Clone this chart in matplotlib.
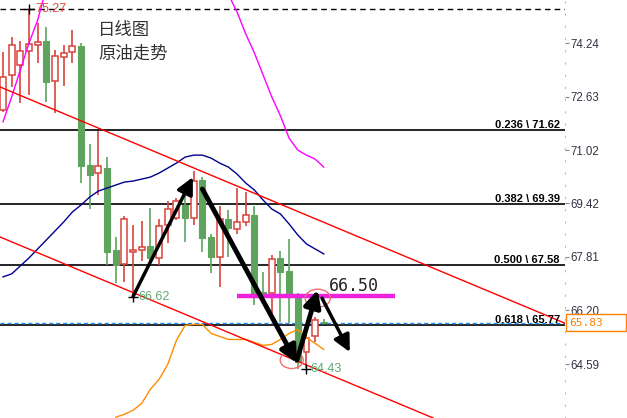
import numpy as np
import matplotlib
matplotlib.use("Agg")
import matplotlib.pyplot as plt
import matplotlib.transforms as mtransforms
from matplotlib.patches import Ellipse, Rectangle

plt.rcParams['font.family'] = ['Noto Sans CJK SC', 'DejaVu Sans']

nan = np.nan

# daily OHLC (index 0 = leftmost candle)
OPEN = [72.23, 73.28, 73.58, 74.00, 74.18, 74.30, 73.10, 73.82, 73.97, 74.15,
        70.57, 70.33, 70.48, 68.02, 67.60, 67.96, 68.02, 68.14, 67.78, 68.77,
        68.98, 69.37, 68.98, 70.12, 68.41, 67.81, 68.95, 68.65, 68.86, 69.07,
        66.75, 66.72, 67.78, 67.39, 66.60, 64.95, 65.43, 65.86]
HIGH = [73.97, 74.42, 74.30, 75.27, 74.84, 74.72, 74.03, 74.18, 74.63, 74.24,
        71.20, 71.59, 70.81, 68.41, 69.04, 68.77, 68.89, 69.28, 68.95, 69.49,
        69.58, 69.75, 70.39, 70.21, 68.50, 69.34, 69.22, 69.88, 69.76, 69.34,
        67.36, 67.87, 67.99, 68.35, 66.72, 65.61, 66.00, 65.93]
LOW = [72.17, 72.92, 72.44, 72.68, 73.64, 72.47, 72.14, 72.95, 73.64, 70.03,
       69.25, 69.67, 67.57, 67.03, 67.06, 66.62, 67.69, 67.57, 67.57, 68.23,
       68.92, 68.26, 68.77, 67.96, 67.33, 66.91, 67.81, 68.50, 68.74, 66.36,
       66.51, 66.12, 65.85, 65.82, 64.43, 64.47, 65.25, 65.80]
CLOSE = [73.22, 74.18, 74.00, 74.21, 74.27, 73.07, 73.85, 73.94, 74.15, 70.54,
         70.27, 70.54, 67.96, 67.57, 68.95, 68.02, 68.11, 67.78, 68.74, 69.25,
         69.49, 68.98, 70.10, 68.38, 67.81, 68.95, 68.68, 68.86, 69.07, 66.72,
         66.69, 67.75, 67.36, 66.60, 64.65, 65.37, 65.91, 65.83]

# moving-average style lines
MA_BLUE = [67.21, 67.30, 67.54, 67.78, 68.05, 68.32, 68.59, 68.86, 69.16, 69.37,
           69.61, 69.79, 69.88, 69.97, 70.06, 70.09, 70.15, 70.21, 70.33, 70.48,
           70.63, 70.81, 70.87, 70.87, 70.78, 70.63, 70.51, 70.30, 70.03, 69.82,
           69.52, 69.25, 69.10, 68.80, 68.47, 68.20, 68.05, 67.90]
MA_ORANGE = [nan] * 13 + [62.99, 63.08, 63.20, 63.41, 63.83, 64.13, 64.58, 65.30,
                          65.75, 65.78, 65.78, 65.51, 65.42, 65.33, 65.33, 65.33,
                          65.24, 65.15, 65.18, 65.33, 65.51, 65.63, 65.39, 65.21, 65.03]
MA_MAGENTA = ([71.87, 72.62, 73.43, 74.24, 74.93, 75.90] + [nan] * 20 +
              [75.70, 75.17, 74.51, 73.94, 73.28, 72.62, 72.05, 71.38, 71.02,
               70.87, 70.75, 70.51])

FIB_RATIOS = [0.236, 0.382, 0.500, 0.618]
FIB_LEVELS = [71.62, 69.39, 67.58, 65.77]
AXIS_TICKS = [74.24, 72.63, 71.02, 69.42, 67.81, 66.20, 64.59]

TOP_PRICE = 75.27
LOW1_PRICE = 66.62
LOW2_PRICE = 64.43
LAST_PRICE = 65.83
RESIST_PRICE = 66.63
RESIST_LABEL = "66.50"

UPPER_CHANNEL = [(-0.35, 72.92), (64.8, 65.82)]
LOWER_CHANNEL = [(-0.35, 68.41), (49.6, 62.97)]

ARROWS = [((15.0, 66.62), (21.9, 70.21), 2.5),
          ((23.0, 69.85), (33.9, 64.62), 3.5),
          ((33.9, 64.71), (36.3, 66.82), 3.5),
          ((36.8, 66.57), (40.0, 64.95), 2.5)]

RED = '#d8443c'
GREEN = '#5ea45e'

fig = plt.figure(figsize=(6.27, 4.18), dpi=100)
ax = fig.add_axes([0, 0, 565 / 627, 1])
ax.set_xlim(-0.346, 64.82)
ax.set_ylim(62.968, 75.533)

x = np.arange(len(OPEN))
o, h, l, c = map(np.array, (OPEN, HIGH, LOW, CLOSE))
up = c >= o
w = 0.68

# candles
for i in x:
    col = RED if up[i] else GREEN
    ax.vlines(i, l[i], h[i], color=col, lw=1.2, zorder=3)
    bot, top = min(o[i], c[i]), max(o[i], c[i])
    hgt = max(top - bot, 0.02)
    if up[i]:
        ax.bar(i, hgt, bottom=bot, width=w, facecolor='white', edgecolor=col,
               linewidth=1.1, zorder=4)
    else:
        ax.bar(i, hgt, bottom=bot, width=w, facecolor=col, edgecolor=col,
               linewidth=0.8, zorder=4)

ax.plot(x, MA_BLUE, color='#000090', lw=1.0, zorder=5)
ax.plot(x, MA_ORANGE, color='#ff8c00', lw=1.0, zorder=5)
ax.plot(x, MA_MAGENTA, color='#ff00ff', lw=1.0, zorder=5)

# channel lines
ax.axline(*UPPER_CHANNEL, color='#ff0000', lw=1.0, zorder=5)
ax.axline(*LOWER_CHANNEL, color='#ff0000', lw=1.0, zorder=5)

bt = mtransforms.blended_transform_factory(ax.transAxes, ax.transData)

# fibonacci levels
for r, lvl in zip(FIB_RATIOS, FIB_LEVELS):
    ax.axhline(lvl, color='black', lw=1.2, zorder=2)
    ax.text(560 / 565, lvl, f"{r:.3f} \\ {lvl:.2f}", transform=bt,
            ha='right', va='bottom', fontsize=8, fontweight='bold',
            family=['Liberation Sans', 'DejaVu Sans'], zorder=6)

ax.axhline(TOP_PRICE, color='black', lw=1.0, dashes=(4, 3), zorder=2)
ax.axhline(LAST_PRICE, color='#1e90ff', lw=1.0, dashes=(3, 2), zorder=2)

# marked extremes
ax.plot([3.0], [TOP_PRICE], marker='+', color='black', ms=7, zorder=7)
ax.text(3.7, TOP_PRICE, f"{TOP_PRICE:.2f}", color='#e04a40', fontsize=9,
        va='center', family=['Liberation Sans', 'DejaVu Sans'], zorder=10)
ax.plot([15.0], [LOW1_PRICE], marker='+', color='black', ms=7, zorder=7)
ax.text(15.6, LOW1_PRICE, f"{LOW1_PRICE:.2f}", color='#5fa870', fontsize=9,
        va='center', family=['Liberation Sans', 'DejaVu Sans'], zorder=10)
ax.plot([34.9], [LOW2_PRICE], marker='+', color='black', ms=7, zorder=7)
ax.text(35.4, LOW2_PRICE, f"{LOW2_PRICE:.2f}", color='#5fa870', fontsize=9,
        va='center', family=['Liberation Sans', 'DejaVu Sans'], zorder=10)

# resistance line
ax.plot([27.0, 45.2], [RESIST_PRICE, RESIST_PRICE], color='#ee22dd', lw=3.2,
        solid_capstyle='butt', zorder=6)
ax.text(37.6, 66.94, RESIST_LABEL, fontsize=12, color='#222222',
        family=['DejaVu Sans Mono'], va='center', zorder=7)

# circles
ax.add_patch(Ellipse((36.3, 66.57), 2.9, 0.54, fill=False, ec='#f07070', lw=1.0, zorder=8))
ax.add_patch(Ellipse((33.3, 64.71), 2.65, 0.51, fill=False, ec='#f07070', lw=1.0, zorder=8))

# arrows
for start, end, lw in ARROWS:
    ax.annotate('', xy=end, xytext=start,
                arrowprops=dict(arrowstyle='-|>,head_length=1.0,head_width=0.5',
                                color='black', lw=lw, shrinkA=0, shrinkB=0,
                                mutation_scale=10), zorder=9)

# titles
ax.text(98 / 565, 1 - 30 / 418, "日线图", transform=ax.transAxes, fontsize=12.5,
        color='#333333', va='center', ha='left')
ax.text(98 / 565, 1 - 54 / 418, "原油走势", transform=ax.transAxes, fontsize=12.5,
        color='#333333', va='center', ha='left')

# right axis
for s in ('top', 'bottom', 'left'):
    ax.spines[s].set_visible(False)
ax.spines['right'].set_color('#bbbbbb')
ax.spines['right'].set_linestyle((0, (1, 10)))
ax.set_xticks([])
ax.yaxis.tick_right()
ax.set_yticks(AXIS_TICKS)
ax.set_yticklabels([f"{t:.2f}" for t in AXIS_TICKS])
ax.tick_params(axis='y', length=3, width=0.8, color='#888888', pad=1,
               labelsize=8.3, labelcolor='#333344')
for lab in ax.get_yticklabels():
    lab.set_family(['Liberation Sans', 'DejaVu Sans'])

# last price box
ax.add_patch(Rectangle((1.002, 65.58), 60 / 565, 0.51, transform=bt, fill=False,
                       ec='#ff8000', lw=1.0, clip_on=False, zorder=10))
ax.text(1.008, LAST_PRICE, f"{LAST_PRICE:.2f}", transform=bt, color='#ff8000',
        fontsize=8, family=['DejaVu Sans Mono'], va='center', ha='left', clip_on=False)

fig.savefig("out.png", dpi=100)
